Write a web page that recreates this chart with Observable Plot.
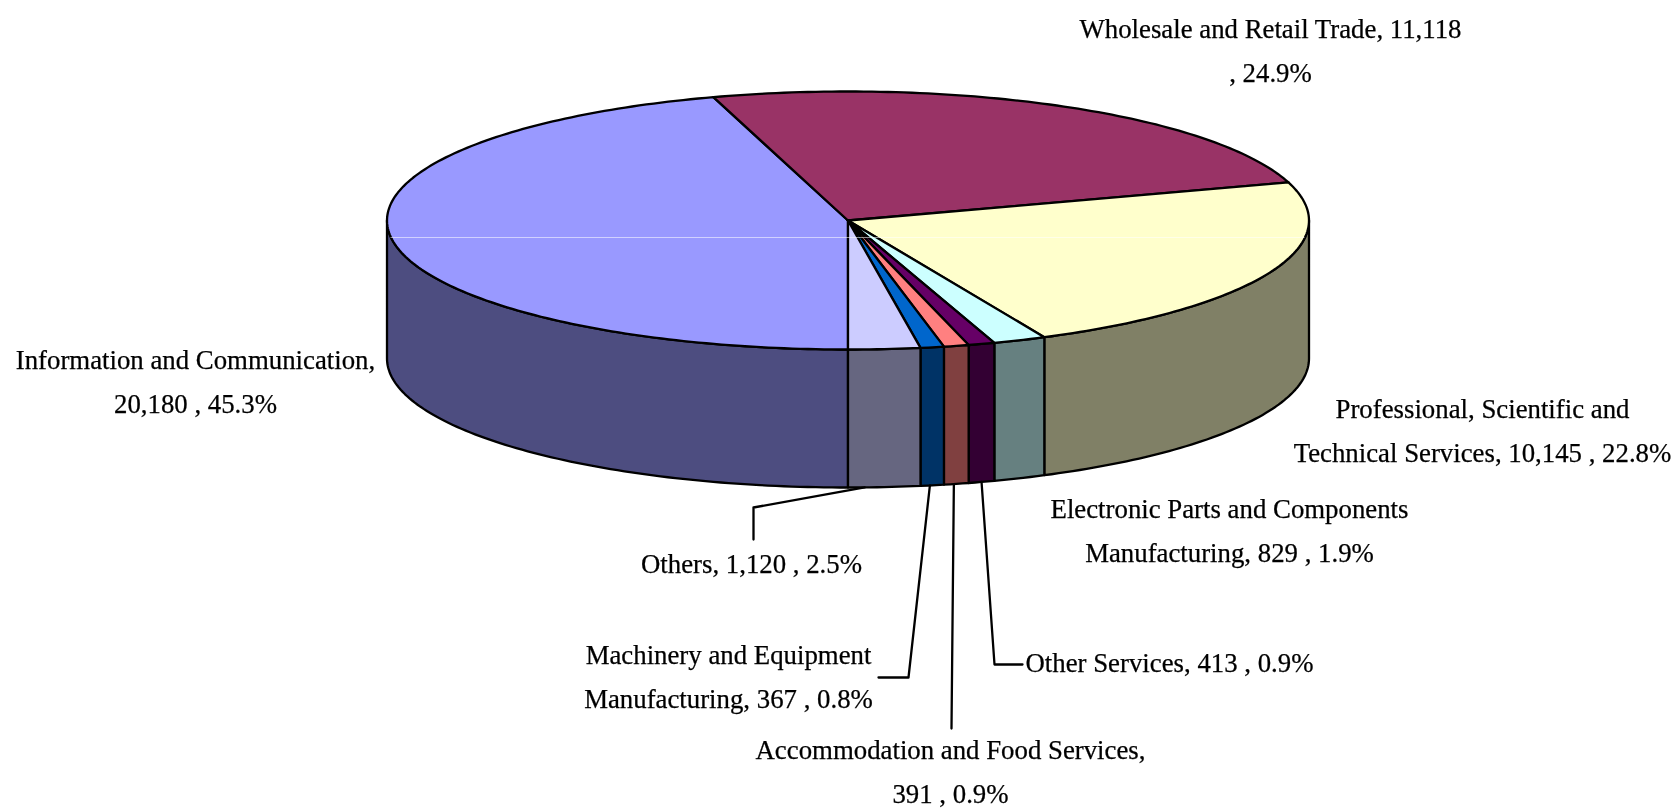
<!DOCTYPE html>
<html>
<head>
<meta charset="utf-8">
<script src="https://cdn.jsdelivr.net/npm/d3@7"></script>
<script src="https://cdn.jsdelivr.net/npm/@observablehq/plot@0.6"></script>
<style>
html,body{margin:0;padding:0;background:#fff;overflow:hidden}
svg{display:block;filter:blur(0.55px)}
</style>
</head>
<body>
<div id="chart"></div>
<script>
// Data, in pie order (clockwise from the bottom of the pie)
const categories = [
  "Information and Communication",
  "Wholesale and Retail Trade",
  "Professional, Scientific and Technical Services",
  "Electronic Parts and Components Manufacturing",
  "Other Services",
  "Accommodation and Food Services",
  "Machinery and Equipment Manufacturing",
  "Others"
];
const values = [20180, 11118, 10145, 829, 413, 391, 367, 1120];
const labels = [
  "Information and Communication,\n20,180 , 45.3%",
  "Wholesale and Retail Trade, 11,118\n, 24.9%",
  "Professional, Scientific and\nTechnical Services, 10,145 , 22.8%",
  "Electronic Parts and Components\nManufacturing, 829 , 1.9%",
  "Other Services, 413 , 0.9%",
  "Accommodation and Food Services,\n391 , 0.9%",
  "Machinery and Equipment\nManufacturing, 367 , 0.8%",
  "Others, 1,120 , 2.5%"
];
const topColors = ["#9999FF","#993366","#FFFFCC","#CCFFFF","#660066","#FF8080","#0066CC","#CCCCFF"];
const sideColors = ["#4D4D80","#4D1A33","#808066","#668080","#330033","#804040","#003366","#666680"];

// Layout
const W = 1679, H = 811;
const pie = {cx: 847.5, cy: 220, rx: 461, ry: 129, depth: 138};
const labelAt = [[195,376.5],[1270,45],[1482,425],[1229,525.5],[1169,657.5],[950,766],[728,671],[751,558.5]];
const leaders = [
  {slice: 7, at: 0.77, via: [[753,507],[753,539]]},
  {slice: 6, at: 0.6, via: [[908,677],[878,677]]},
  {slice: 5, at: 0.6, via: [[951,728]]},
  {slice: 4, at: 0.5, via: [[994,664],[1022,664]]}
];

const total = d3.sum(values);
let acc = 180;
const spans = values.map(v => { const a0 = acc; acc += v / total * 360; return [a0, acc]; });
const rad = a => a * Math.PI / 180;
const px = a => pie.cx + pie.rx * Math.sin(rad(a));
const py = (a, dz = 0) => pie.cy - pie.ry * Math.cos(rad(a)) + dz;
const arc = (a0, a1) => {
  const n = Math.max(2, Math.ceil(Math.abs(a1 - a0)));
  return d3.range(n + 1).map(i => a0 + (a1 - a0) * i / n);
};

// Top faces
const topPts = spans.flatMap(([a0, a1], i) => {
  const ring = arc(a0, a1).map(a => ({id: i, x: px(a), y: py(a), fill: topColors[i]}));
  const c = {id: i, x: pie.cx, y: pie.cy, fill: topColors[i]};
  return [c, ...ring, c];
});

// Side faces: only the front half of the cylinder (90° to 270°) shows
const sidePts = spans.flatMap(([a0, a1], i) => {
  const parts = [];
  for (const shift of [0, 360]) {
    const s = Math.max(a0, 90 + shift), e = Math.min(a1, 270 + shift);
    if (e > s) parts.push([s, e]);
  }
  return parts.flatMap(([s, e], j) => {
    const as = arc(s, e);
    const id = `${i}-${j}`;
    const f = sideColors[i];
    const upper = as.map(a => ({id, x: px(a), y: py(a), fill: f}));
    const lower = as.slice().reverse().map(a => ({id, x: px(a), y: py(a, pie.depth), fill: f}));
    return [...upper, ...lower, upper[0]];
  });
});

// Leader lines start on the lower rim, under their slice
const leaderPts = leaders.flatMap(({slice, at, via}) => {
  const mid = spans[slice][0] + (spans[slice][1] - spans[slice][0]) * at;
  const start = {id: slice, x: px(mid), y: py(mid, pie.depth)};
  return [start, ...via.map(([x, y]) => ({id: slice, x, y}))];
});

const labelRows = labels.map((t, i) => ({t, x: labelAt[i][0], y: labelAt[i][1]}));

// Faint light scan line that crosses the top face
const scanY = 237;
const scanDx = pie.rx * Math.sqrt(1 - ((scanY - pie.cy) / pie.ry) ** 2);

const chart = Plot.plot({
  width: W, height: H,
  margin: 0,
  style: {background: "#fff"},
  x: {domain: [0, W], range: [0, W], axis: null},
  y: {domain: [0, H], range: [0, H], axis: null},
  color: {type: "identity"},
  marks: [
    Plot.line(sidePts, {x: "x", y: "y", z: "id", fill: "fill", stroke: "#000", strokeWidth: 2.3, strokeLinejoin: "round"}),
    Plot.line(topPts, {x: "x", y: "y", z: "id", fill: "fill", stroke: "#000", strokeWidth: 2.3, strokeLinejoin: "round"}),
    Plot.ruleY([scanY], {x1: pie.cx - scanDx, x2: pie.cx + scanDx, stroke: "#fff", strokeOpacity: 0.55, strokeWidth: 1}),
    Plot.line(leaderPts, {x: "x", y: "y", z: "id", stroke: "#000", strokeWidth: 2.3}),
    Plot.text(labelRows, {
      x: "x", y: "y", text: "t",
      fontFamily: "'Liberation Serif', serif",
      fontSize: 26.8,
      lineHeight: 1.64,
      lineAnchor: "middle",
      textAnchor: "middle",
      fill: "#000",
      stroke: "#000",
      strokeWidth: 0.25
    })
  ]
});
document.getElementById("chart").append(chart);
</script>
</body>
</html>
